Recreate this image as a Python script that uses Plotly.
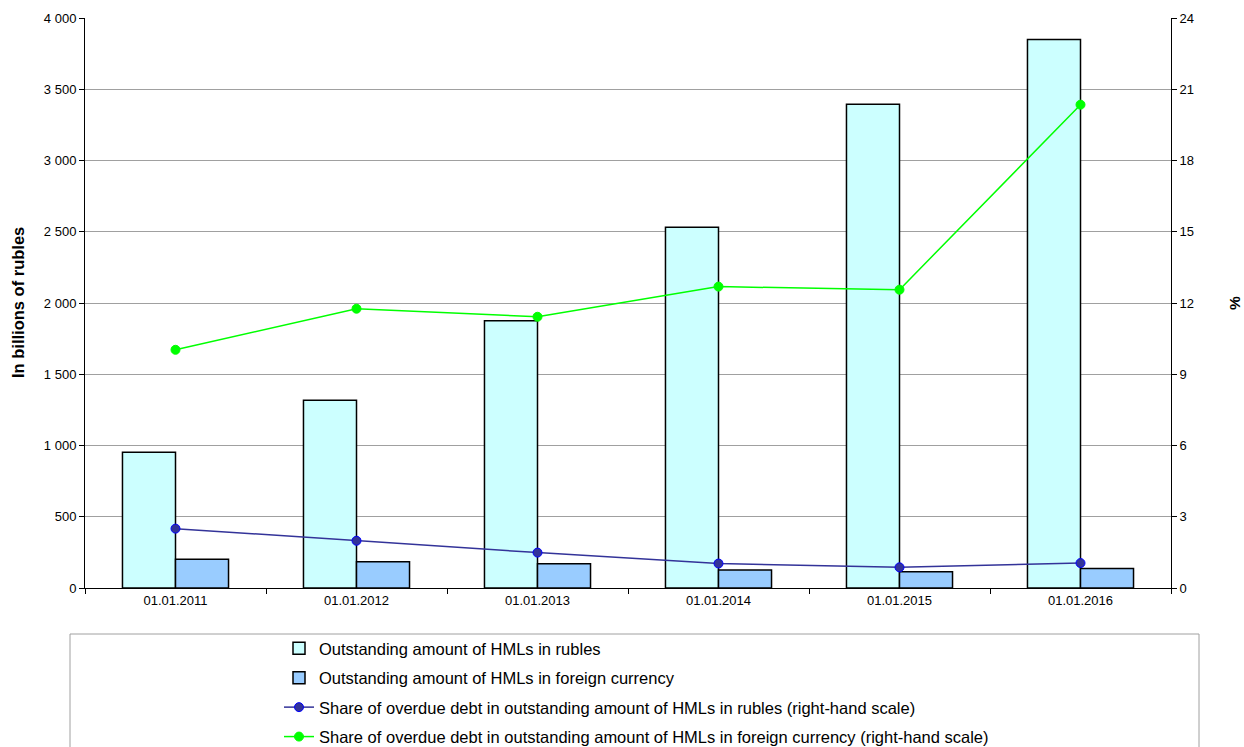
import plotly.graph_objects as go

dates = ["01.01.2011", "01.01.2012", "01.01.2013", "01.01.2014", "01.01.2015", "01.01.2016"]
hml_rubles = [952, 1317, 1876, 2532, 3394, 3850]
hml_foreign = [201, 185, 170, 126, 114, 136]
overdue_share_rubles = [2.50, 1.99, 1.49, 1.03, 0.87, 1.05]
overdue_share_foreign = [10.03, 11.76, 11.42, 12.69, 12.56, 20.35]

names = [
    "Outstanding amount of HMLs in rubles",
    "Outstanding amount of HMLs in foreign currency",
    "Share of overdue debt in outstanding amount of HMLs in rubles (right-hand scale)",
    "Share of overdue debt in outstanding amount of HMLs in foreign currency (right-hand scale)",
]

W, H = 1244, 747
L, R, T, B = 85, 73, 18, 159
PW, PH = W - L - R, H - T - B


def px(x):
    return (x - L) / PW


def py(y):
    return (H - B - y) / PH


fig = go.Figure()
fig.add_trace(go.Bar(x=dates, y=hml_rubles, name=names[0], legendgroup="a",
                     marker=dict(color="#ccffff", line=dict(color="#000000", width=1.5))))
fig.add_trace(go.Bar(x=dates, y=hml_foreign, name=names[1], legendgroup="b",
                     marker=dict(color="#99ccff", line=dict(color="#000000", width=1.5))))
fig.add_trace(go.Scatter(x=dates, y=overdue_share_rubles, name=names[2], yaxis="y2", legendgroup="c",
                         mode="lines+markers",
                         line=dict(color="#333399", width=1.5),
                         marker=dict(color="#333399", size=9, line=dict(color="#0000ff", width=1))))
fig.add_trace(go.Scatter(x=dates, y=overdue_share_foreign, name=names[3], yaxis="y2", legendgroup="d",
                         mode="lines+markers",
                         line=dict(color="#00ff00", width=1.5),
                         marker=dict(color="#00ff00", size=9, line=dict(color="#00ff00", width=1))))

font_family = "Liberation Sans, Arial, sans-serif"

fig.update_layout(
    width=W, height=H,
    margin=dict(l=L, r=R, t=T, b=B, autoexpand=False),
    paper_bgcolor="white", plot_bgcolor="white",
    font=dict(family=font_family, size=13, color="#000000"),
    separators=". ",
    barmode="group", bargap=0.414, bargroupgap=0,
    showlegend=True,
    legend=dict(x=px(279), xanchor="left", y=py(631), yanchor="top",
                font=dict(size=16.5, family=font_family), bgcolor="rgba(0,0,0,0)",
                borderwidth=0, tracegroupgap=5, traceorder="grouped"),
    xaxis=dict(type="category", showline=True, linecolor="#000000", linewidth=1,
               ticks="outside", tickson="boundaries", ticklen=5, tickcolor="#000000",
               showgrid=False, tickfont=dict(size=13)),
    yaxis=dict(range=[0, 4000], dtick=500, tickformat=",d", showline=True, linecolor="#000000",
               linewidth=1, ticks="outside", ticklen=5, tickcolor="#000000",
               showgrid=True, gridcolor="#a0a0a0", gridwidth=1, zeroline=False,
               tickfont=dict(size=13)),
    yaxis2=dict(range=[0, 24], dtick=3, overlaying="y", side="right", showline=True,
                linecolor="#000000", linewidth=1, ticks="outside", ticklen=5, tickcolor="#000000",
                showgrid=False, zeroline=False, tickfont=dict(size=13)),
    shapes=[dict(type="rect", xref="paper", yref="paper",
                 x0=px(70), x1=px(1199), y0=py(634), y1=py(775),
                 line=dict(color="#a0a0a0", width=1), fillcolor="rgba(0,0,0,0)", layer="below")],
    annotations=[
        dict(text="<b>In billions of rubles</b>", xref="paper", yref="paper",
             x=px(18), y=0.5, textangle=-90, showarrow=False, font=dict(size=16.5),
             xanchor="center", yanchor="middle"),
        dict(text="<b>%</b>", xref="paper", yref="paper",
             x=px(1234), y=0.5, textangle=-90, showarrow=False, font=dict(size=15.5),
             xanchor="center", yanchor="middle"),
    ],
)

fig.write_html("out.html")
